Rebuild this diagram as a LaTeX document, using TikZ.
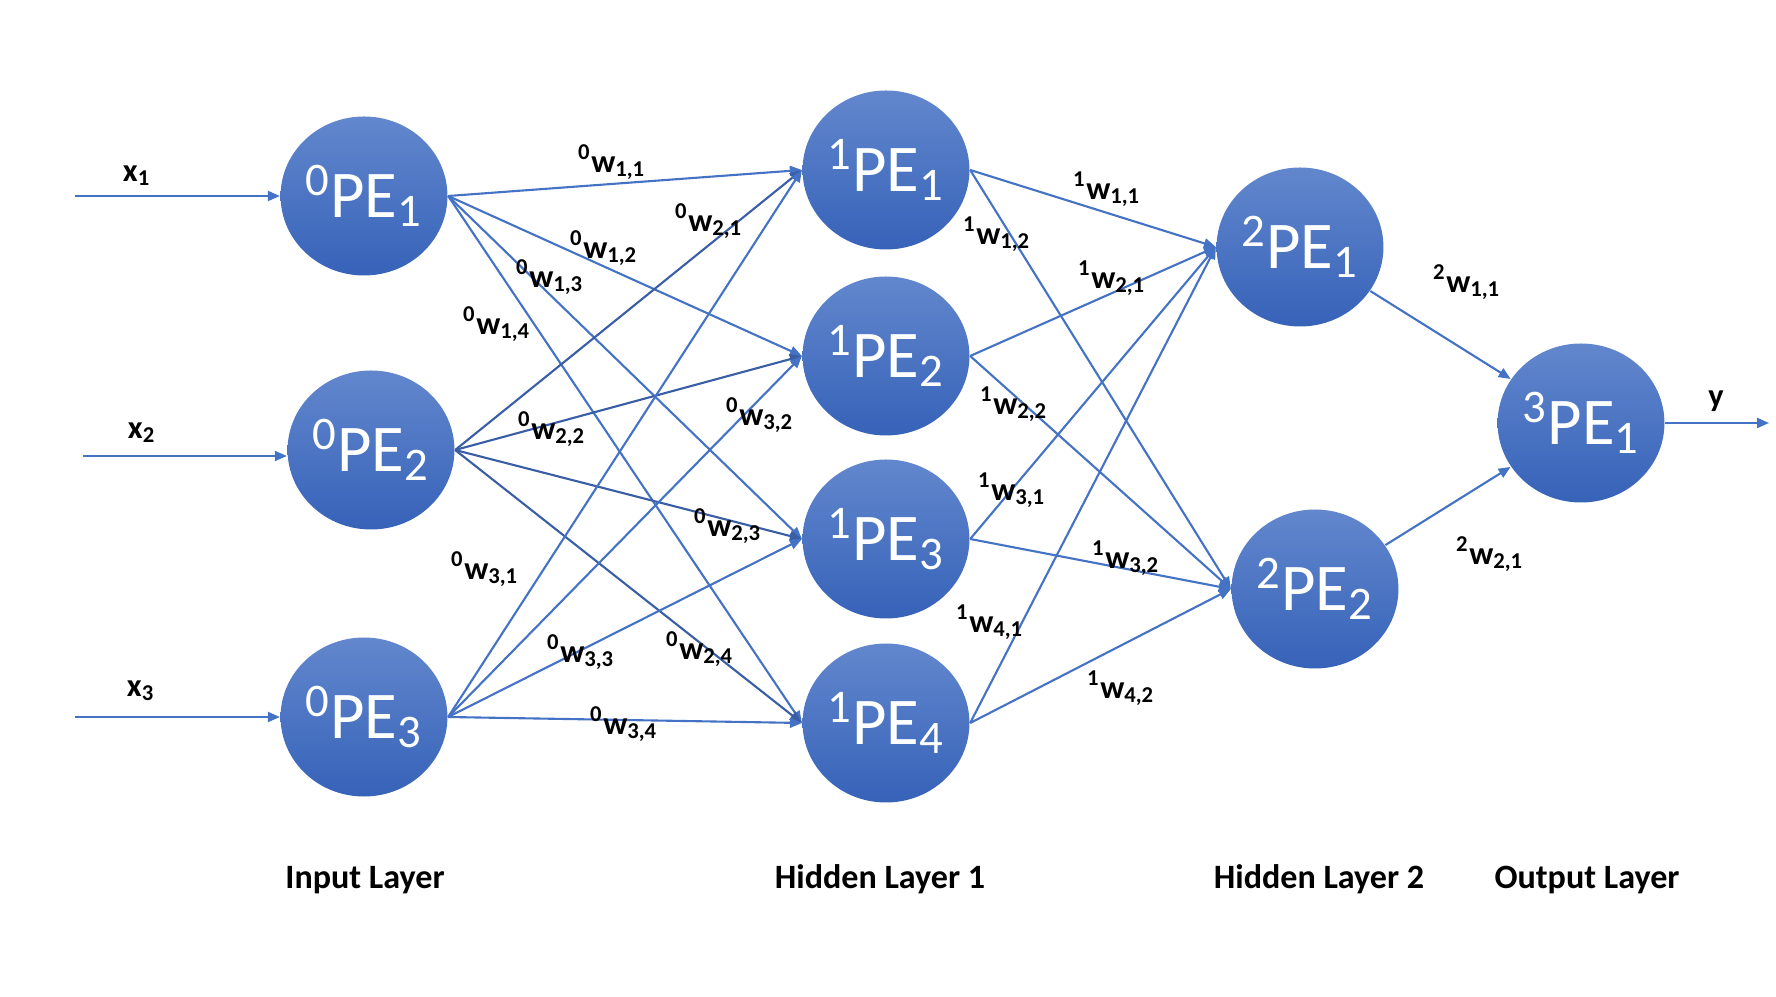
\documentclass[tikz,border=0pt]{standalone}
\usepackage{fontspec}
\setmainfont{Carlito}
\usepackage{tikz}
\usetikzlibrary{arrows.meta,shapes.geometric,positioning}

\definecolor{peTop}{RGB}{98,135,205}
\definecolor{peBot}{RGB}{54,98,184}
\definecolor{linkBlue}{RGB}{68,114,196}
\definecolor{linkDark}{RGB}{58,94,165}

\newcommand{\pelab}[2]{\textsuperscript{#1}PE\textsubscript{#2}}
\newcommand{\wgt}[3]{\textsuperscript{#1}w\textsubscript{#2,#3}}

\tikzset{
  pe/.style={ellipse,minimum width=1.66cm,minimum height=1.59cm,inner sep=0pt,
    top color=peTop,bottom color=peBot,text=white,font=\fontsize{19}{22}\selectfont},
  link/.style={draw=linkBlue,line width=0.6pt,-{Triangle[length=1.2mm,width=1mm]}},
  wlab/.style={inner sep=0pt,font=\fontsize{9.2}{11}\selectfont\bfseries},
  layer/.style={anchor=base,inner sep=0pt,font=\fontsize{9.7}{12}\selectfont\bfseries}
}

\begin{document}
\begin{tikzpicture}
                \useasboundingbox (0,0) rectangle (17.76,9.96);

                % processing elements
                \node[pe] (in1) at (3.64,8.00) {\pelab{0}{1}};
                \node[pe] (in2) at (3.71,5.46) {\pelab{0}{2}};
                \node[pe] (in3) at (3.64,2.79) {\pelab{0}{3}};
                \node[pe] (h1a) at (8.86,8.26) {\pelab{1}{1}};
                \node[pe] (h1b) at (8.86,6.40) {\pelab{1}{2}};
                \node[pe] (h1c) at (8.86,4.57) {\pelab{1}{3}};
                \node[pe] (h1d) at (8.86,2.73) {\pelab{1}{4}};
                \node[pe] (h2a) at (13.00,7.49) {\pelab{2}{1}};
                \node[pe] (h2b) at (13.15,4.07) {\pelab{2}{2}};
                \node[pe] (out) at (15.81,5.73) {\pelab{3}{1}};

                % inputs and output
                \coordinate (x1) at (0.75,8.00);
                \coordinate (x2) at (0.83,5.40);
                \coordinate (x3) at (0.75,2.79);
                \coordinate (y) at (17.69,5.73);
                \draw[link] (x1) -- (in1);
                \draw[link] (x2) -- (x2 -| in2.west);
                \draw[link] (x3) -- (in3);
                \draw[link] (out) -- (y);
                \node[wlab] (lx1) at (1.37,8.20) {x\textsubscript{1}};
                \node[wlab] (lx2) at (1.42,5.63) {x\textsubscript{2}};
                \node[wlab] (lx3) at (1.41,3.05) {x\textsubscript{3}};
                \node[wlab] (ly) at (17.16,5.95) {y};

                % input layer -> hidden layer 1
                \draw[link] (in1.east) -- (h1a.west);
                \draw[link] (in1.east) -- (h1b.west);
                \draw[link] (in1.east) -- (h1c.west);
                \draw[link] (in1.east) -- (h1d.west);
                \draw[link,draw=linkDark] (in2.east) -- (h1a.west);
                \draw[link,draw=linkDark] (in2.east) -- (h1b.west);
                \draw[link,draw=linkDark] (in2.east) -- (h1c.west);
                \draw[link,draw=linkDark] (in2.east) -- (h1d.west);
                \draw[link] (in3.east) -- (h1a.west);
                \draw[link] (in3.east) -- (h1b.west);
                \draw[link] (in3.east) -- (h1c.west);
                \draw[link] (in3.east) -- (h1d.west);

                % hidden layer 1 -> hidden layer 2
                \draw[link] (h1a.east) -- (h2a.west);
                \draw[link] (h1a.east) -- (h2b.west);
                \draw[link] (h1b.east) -- (h2a.west);
                \draw[link] (h1b.east) -- (h2b.west);
                \draw[link] (h1c.east) -- (h2a.west);
                \draw[link] (h1c.east) -- (h2b.west);
                \draw[link] (h1d.east) -- (h2a.west);
                \draw[link] (h1d.east) -- (h2b.west);

                % hidden layer 2 -> output
                \draw[link] (h2a) -- (out);
                \draw[link] (h2b) -- (out);

                % weights
                \node[wlab] (w011) at (6.12,8.34) {\wgt{0}{1}{1}};
                \node[wlab] (w012) at (6.04,7.48) {\wgt{0}{1}{2}};
                \node[wlab] (w013) at (5.50,7.19) {\wgt{0}{1}{3}};
                \node[wlab] (w014) at (4.97,6.72) {\wgt{0}{1}{4}};
                \node[wlab] (w021) at (7.09,7.75) {\wgt{0}{2}{1}};
                \node[wlab] (w022) at (5.52,5.67) {\wgt{0}{2}{2}};
                \node[wlab] (w023) at (7.28,4.70) {\wgt{0}{2}{3}};
                \node[wlab] (w024) at (7.00,3.47) {\wgt{0}{2}{4}};
                \node[wlab] (w031) at (4.85,4.27) {\wgt{0}{3}{1}};
                \node[wlab] (w032) at (7.60,5.81) {\wgt{0}{3}{2}};
                \node[wlab] (w033) at (5.81,3.44) {\wgt{0}{3}{3}};
                \node[wlab] (w034) at (6.24,2.72) {\wgt{0}{3}{4}};
                \node[wlab] (w111) at (11.07,8.07) {\wgt{1}{1}{1}};
                \node[wlab] (w112) at (9.97,7.62) {\wgt{1}{1}{2}};
                \node[wlab] (w121) at (11.12,7.18) {\wgt{1}{2}{1}};
                \node[wlab] (w122) at (10.14,5.92) {\wgt{1}{2}{2}};
                \node[wlab] (w131) at (10.12,5.06) {\wgt{1}{3}{1}};
                \node[wlab] (w132) at (11.26,4.38) {\wgt{1}{3}{2}};
                \node[wlab] (w141) at (9.90,3.74) {\wgt{1}{4}{1}};
                \node[wlab] (w142) at (11.21,3.08) {\wgt{1}{4}{2}};
                \node[wlab] (w211) at (14.67,7.14) {\wgt{2}{1}{1}};
                \node[wlab] (w221) at (14.90,4.42) {\wgt{2}{2}{1}};

                % layer names
                \node[layer] (linput) at (3.65,1.08) {Input Layer};
                \node[layer] (lhid1) at (8.80,1.08) {Hidden Layer 1};
                \node[layer] (lhid2) at (13.19,1.08) {Hidden Layer 2};
                \node[layer] (loutput) at (15.87,1.08) {Output Layer};
\end{tikzpicture}
\end{document}
